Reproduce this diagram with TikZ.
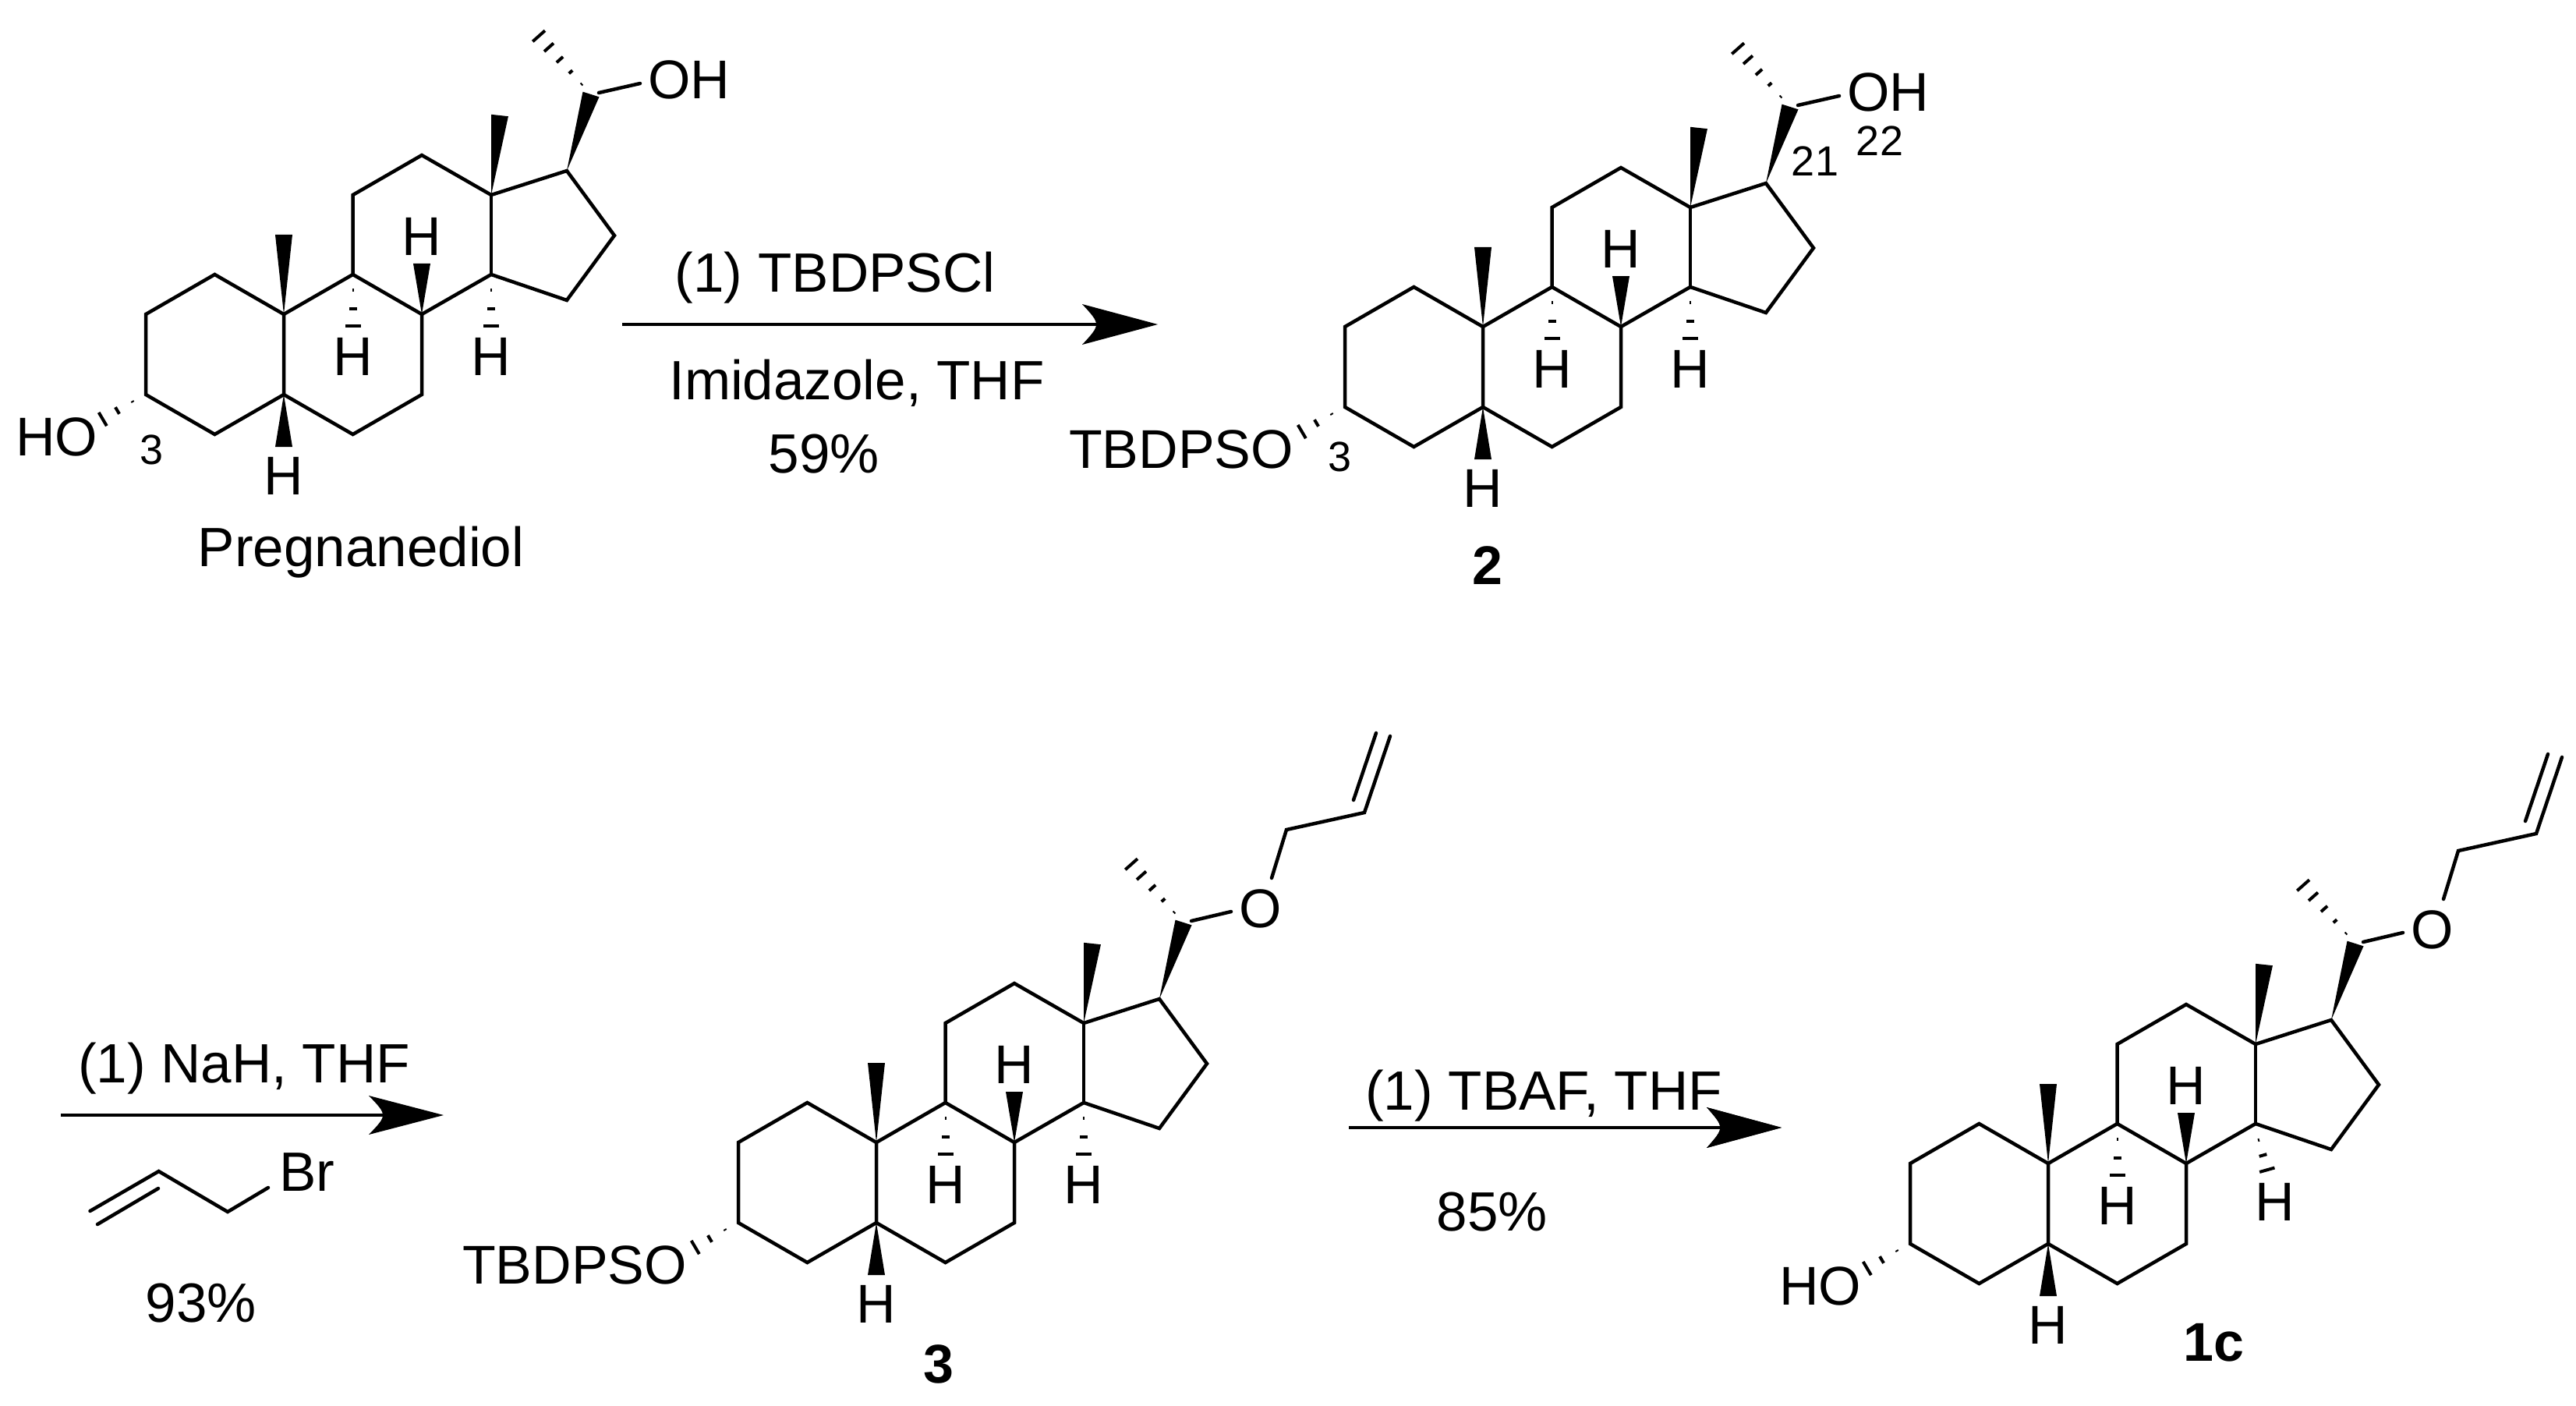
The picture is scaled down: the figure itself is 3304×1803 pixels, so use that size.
\documentclass[tikz,border=0pt]{standalone}
\usepackage{fontspec}
\setmainfont{Liberation Sans}
\usetikzlibrary{calc}
\tikzset{
  bond/.style={line width=4.5pt,line cap=round,line join=miter,black},
  rxnline/.style={line width=4pt,black},
  hashline/.style={line width=4pt,black},
  lab/.style={inner sep=0pt,outer sep=0pt,anchor=base,font=\fontsize{70}{84}\selectfont},
  labr/.style={lab,anchor=base east},
  rgt/.style={inner sep=0pt,outer sep=0pt,anchor=base,font=\fontsize{71}{84}\selectfont},
  num/.style={inner sep=0pt,outer sep=0pt,anchor=base,font=\fontsize{54}{64}\selectfont},
  cpd/.style={inner sep=0pt,outer sep=0pt,anchor=base,font=\fontsize{70}{84}\selectfont\bfseries},
}
% wedge: from narrow atom #1 to wide end centred on #2, half width #3
\newcommand{\wedgeb}[3]{\fill[black] (#1) -- ($(#2)!#3pt!90:(#1)$) -- ($(#2)!-#3pt!90:(#1)$) -- cycle;}
% hashed bond: from #1 towards #2, list of fraction/half-width in #3
\newcommand{\hashb}[3]{\foreach \tf/\hw in {#3}{\draw[hashline] ($(#1)!\tf!(#2)!\hw pt!90:(#2)$) -- ($(#1)!\tf!(#2)!-\hw pt!90:(#2)$);}}
% the tetracyclic skeleton
\newcommand{\skeleton}{%
  \coordinate (c10) at (0,0);
  \coordinate (c1) at (-88.6,-51);
  \coordinate (c2) at (-177,0);
  \coordinate (c3) at (-177,103);
  \coordinate (c4) at (-88.6,154);
  \coordinate (c5) at (0,103);
  \coordinate (c6) at (88.6,154);
  \coordinate (c7) at (177,103);
  \coordinate (c8) at (177,0);
  \coordinate (c9) at (88.6,-51);
  \coordinate (c11) at (88.6,-153);
  \coordinate (c12) at (177,-204);
  \coordinate (c13) at (266,-153);
  \coordinate (c14) at (266,-51);
  \coordinate (c15) at (363,-18);
  \coordinate (c16) at (424,-101);
  \coordinate (c17) at (363,-184);
  \coordinate (c20) at (394,-282);
  \coordinate (c20r) at (404,-284);
  \coordinate (me10) at (0,-102);
  \coordinate (me13) at (277,-255);
  \coordinate (h5w) at (0,170);
  \coordinate (h8w) at (177,-65);
  \coordinate (hs9a) at (88.6,-31);
  \coordinate (hs9b) at (88.6,16);
  \coordinate (hs3a) at (-194,112);
  \coordinate (hs3b) at (-233,135);
  \coordinate (hs20a) at (382,-295);
  \coordinate (hs20b) at (326,-358);
  \draw[bond] (c10) -- (c1) -- (c2) -- (c3) -- (c4) -- (c5) -- cycle;
  \draw[bond] (c5) -- (c6) -- (c7) -- (c8) -- (c14) -- (c15) -- (c16) -- (c17) -- (c13) -- (c12) -- (c11) -- (c9) -- (c10);
  \draw[bond] (c9) -- (c8);
  \draw[bond] (c14) -- (c13);
  \wedgeb{c10}{me10}{11}
  \wedgeb{c13}{me13}{11}
  \wedgeb{c5}{h5w}{11}
  \wedgeb{c8}{h8w}{11}
  \wedgeb{c17}{c20}{11}
  \hashb{hs9a}{hs9b}{0/1,0.5/5,0.98/10}
  \hashb{hs3a}{hs3b}{0/1,0.5/5,0.98/10}
  \hashb{hs20a}{hs20b}{0/1,0.25/3,0.5/5.5,0.75/8,0.98/10.5}
  \node[lab] (h8) at (177,-76) {H};
  \node[lab] (h9) at (88.6,78) {H};
  \node[lab] (h5) at (0,231) {H};
}
\newcommand{\hfourteen}{%
  \coordinate (hs14a) at (266,-31);
  \coordinate (hs14b) at (266,16);
  \hashb{hs14a}{hs14b}{0/1,0.5/5,0.98/10}
  \node[lab] (h14) at (266,78) {H};
}
\newcommand{\ohchain}{%
  \coordinate (oe) at (457,-296);
  \draw[bond] (c20r) -- (oe);
  \node[lab] (oh) at (520,-276) {OH};
}
\newcommand{\allyl}{%
  \coordinate (oe) at (455,-296);
  \coordinate (ob) at (507,-339);
  \coordinate (ch2) at (526,-401);
  \coordinate (ch) at (626,-423);
  \coordinate (vt) at (659,-521);
  \coordinate (vc) at (612,-439);
  \coordinate (vd) at (641,-525);
  \draw[bond] (c20r) -- (oe);
  \node[lab] (oa) at (493,-276) {O};
  \draw[bond] (ob) -- (ch2) -- (ch) -- (vt);
  \draw[bond] (vc) -- (vd);
}
\newcommand{\rxnarrow}[7]{%
  \coordinate (#1s) at (#2,#3);
  \coordinate (#1t) at (#4,#3);
  \coordinate (#1n) at (#6,#3);
  \coordinate (#1u) at (#5,#3-#7);
  \coordinate (#1d) at (#5,#3+#7);
  \draw[rxnline] (#1s) -- (#1n);
  \fill[black] (#1t) -- (#1u) .. controls (#1n) .. (#1d) -- cycle;
}
\begin{document}
\begin{tikzpicture}[x=1pt,y=-1pt]
\useasboundingbox (0,0) rectangle (3304,1803);
\fill[white] (0,0) rectangle (3304,1803);

% Pregnanediol
\begin{scope}[shift={(364,403)},name prefix=a-]
  \skeleton \hfourteen \ohchain
  \node[labr] (oh3) at (-239,181) {HO};
  \node[num] (n3) at (-169.5,192) {3};
\end{scope}
\node[rgt] (pd) at (463,726) {Pregnanediol};

% compound 2
\begin{scope}[shift={(1902,419)},name prefix=b-]
  \skeleton \hfourteen \ohchain
  \node[labr] (oh3) at (-243,181) {TBDPSO};
  \node[num] (n3) at (-184,185) {3};
\end{scope}
\node[num] (n21) at (2328,226) {21};
\node[num] (n22) at (2411,200) {22};
\node[cpd] (c2) at (1908,749) {2};

% compound 3
\begin{scope}[shift={(1124,1465)},name prefix=c-]
  \skeleton \hfourteen \allyl
  \node[labr] (oh3) at (-243,181) {TBDPSO};
\end{scope}
\node[cpd] (c3) at (1204,1773) {3};

% compound 1c
\begin{scope}[shift={(2627,1492)},name prefix=d-]
  \skeleton \allyl
  \coordinate (hs14a) at (270,-30);
  \coordinate (hs14b) at (281,9);
  \hashb{hs14a}{hs14b}{0/1,0.5/5,0.98/10}
  \node[lab] (h14) at (291,73) {H};
  \node[labr] (oh3) at (-240,181) {HO};
\end{scope}
\node[cpd] (c1c) at (2839,1745) {1c};

% arrows
\rxnarrow{r1}{798}{416}{1485}{1388}{1412}{26}
\rxnarrow{r2}{78}{1430}{569}{473}{497}{25}
\rxnarrow{r3}{1730}{1446}{2285}{2189}{2212}{26}

% reagents
\node[rgt] (t1a) at (1071,374) {(1) TBDPSCl};
\node[rgt] (t1b) at (1099,512) {Imidazole, THF};
\node[rgt] (t1c) at (1057,606) {59\%};
\node[rgt] (t2a) at (313,1388) {(1) NaH, THF};
\node[rgt] (t2c) at (258,1695) {93\%};
\node[rgt] (t3a) at (1980,1423) {(1) TBAF, THF};
\node[rgt] (t3c) at (1914,1578) {85\%};
\fill[black] (r3t) -- (r3u) .. controls (r3n) .. (r3d) -- cycle;

% allyl bromide
\coordinate (ab1) at (115.5,1553);
\coordinate (ab2) at (203.6,1502);
\coordinate (ab3) at (292,1554);
\coordinate (ab4) at (344,1523);
\coordinate (ab5) at (125,1570);
\coordinate (ab6) at (203,1524);
\draw[bond] (ab1) -- (ab2) -- (ab3) -- (ab4);
\draw[bond] (ab5) -- (ab6);
\node[rgt,anchor=base west] (br) at (358,1527) {Br};
\end{tikzpicture}
\end{document}
